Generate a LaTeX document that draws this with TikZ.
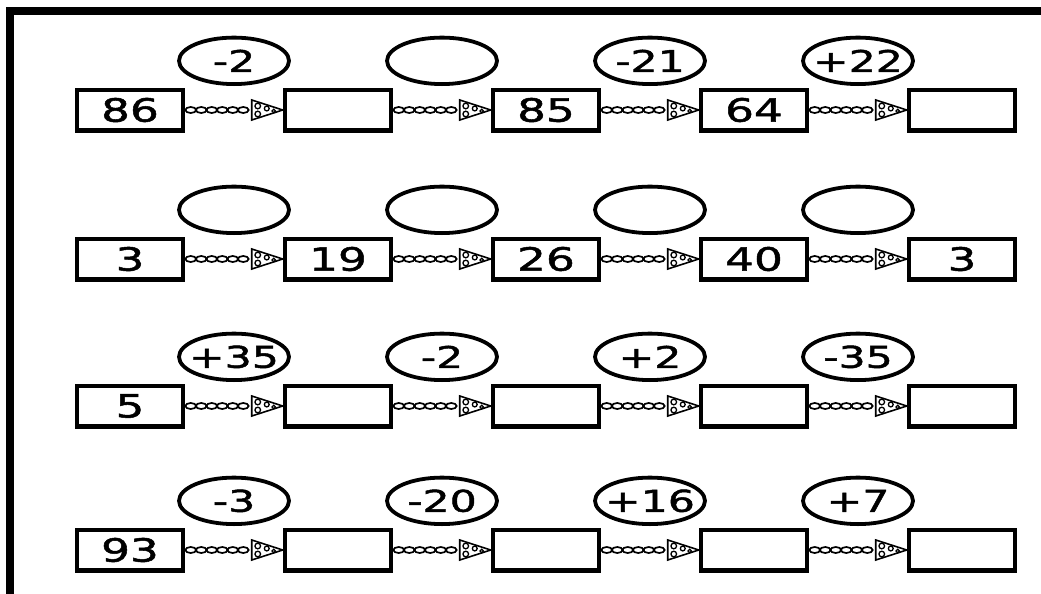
\documentclass[tikz,border=0pt]{standalone}
\usepackage{fontspec}
\setmainfont{DejaVu Sans}[FakeStretch=1.42, FakeBold=1.6]
\usepackage{tikz}
\usetikzlibrary{positioning, shapes.geometric, calc, decorations.markings}

\newcommand{\opval}[1]{\makebox[0pt]{#1}}

\begin{document}
\begin{tikzpicture}[
    x=1pt, y=1pt, node distance=97.5pt,
    numbox/.style={rectangle, draw, line width=4.5pt, minimum width=106pt,
                   minimum height=40.5pt, inner sep=0pt,
                   font=\fontsize{32}{38}\selectfont},
    opbubble/.style={ellipse, draw, line width=3.8pt, minimum width=110pt,
                     minimum height=46.5pt, inner sep=0pt,
                     font=\fontsize{30}{36}\selectfont},
    chainlink/.style={decoration={markings,
        mark=between positions 5.5pt and -36pt step 10.5pt with
            {\draw[line width=1.7pt] (0,0) ellipse (5.4pt and 3pt);},
        mark=at position 1 with
            {\draw[line width=1.6pt, fill=white]
                 (0,0) -- (-31pt,10pt) -- (-31pt,-10pt) -- cycle;
             \draw[line width=1.3pt] (-25pt,4pt) circle (2.8pt)
                 (-25pt,-4pt) circle (2.8pt) (-16pt,1.5pt) circle (2.4pt)
                 (-9pt,-1pt) circle (1.8pt);}},
        postaction={decorate}}
]
    \useasboundingbox (0,0) rectangle (1041,-594);
    \draw[line width=8pt] (10,-594) -- (10,-11) -- (1041,-11);

    % row 1
    \node[numbox] (b11) at (130,-110) {86};
    \node[numbox, right=of b11] (b12) {};
    \node[numbox, right=of b12] (b13) {85};
    \node[numbox, right=of b13] (b14) {64};
    \node[numbox, right=of b14] (b15) {};
    \node[opbubble, above=24pt of $(b11)!0.5!(b12)$] (d11) {\opval{-2}};
    \node[opbubble, above=24pt of $(b12)!0.5!(b13)$] (d12) {};
    \node[opbubble, above=24pt of $(b13)!0.5!(b14)$] (d13) {\opval{-21}};
    \node[opbubble, above=24pt of $(b14)!0.5!(b15)$] (d14) {\opval{+22}};
    \path[chainlink] (b11) -- (b12);
    \path[chainlink] (b12) -- (b13);
    \path[chainlink] (b13) -- (b14);
    \path[chainlink] (b14) -- (b15);

    % row 2
    \node[numbox] (b21) at (130,-259) {3};
    \node[numbox, right=of b21] (b22) {19};
    \node[numbox, right=of b22] (b23) {26};
    \node[numbox, right=of b23] (b24) {40};
    \node[numbox, right=of b24] (b25) {3};
    \node[opbubble, above=24pt of $(b21)!0.5!(b22)$] (d21) {};
    \node[opbubble, above=24pt of $(b22)!0.5!(b23)$] (d22) {};
    \node[opbubble, above=24pt of $(b23)!0.5!(b24)$] (d23) {};
    \node[opbubble, above=24pt of $(b24)!0.5!(b25)$] (d24) {};
    \path[chainlink] (b21) -- (b22);
    \path[chainlink] (b22) -- (b23);
    \path[chainlink] (b23) -- (b24);
    \path[chainlink] (b24) -- (b25);

    % row 3
    \node[numbox] (b31) at (130,-406) {5};
    \node[numbox, right=of b31] (b32) {};
    \node[numbox, right=of b32] (b33) {};
    \node[numbox, right=of b33] (b34) {};
    \node[numbox, right=of b34] (b35) {};
    \node[opbubble, above=24pt of $(b31)!0.5!(b32)$] (d31) {\opval{+35}};
    \node[opbubble, above=24pt of $(b32)!0.5!(b33)$] (d32) {\opval{-2}};
    \node[opbubble, above=24pt of $(b33)!0.5!(b34)$] (d33) {\opval{+2}};
    \node[opbubble, above=24pt of $(b34)!0.5!(b35)$] (d34) {\opval{-35}};
    \path[chainlink] (b31) -- (b32);
    \path[chainlink] (b32) -- (b33);
    \path[chainlink] (b33) -- (b34);
    \path[chainlink] (b34) -- (b35);

    % row 4
    \node[numbox] (b41) at (130,-550) {93};
    \node[numbox, right=of b41] (b42) {};
    \node[numbox, right=of b42] (b43) {};
    \node[numbox, right=of b43] (b44) {};
    \node[numbox, right=of b44] (b45) {};
    \node[opbubble, above=24pt of $(b41)!0.5!(b42)$] (d41) {\opval{-3}};
    \node[opbubble, above=24pt of $(b42)!0.5!(b43)$] (d42) {\opval{-20}};
    \node[opbubble, above=24pt of $(b43)!0.5!(b44)$] (d43) {\opval{+16}};
    \node[opbubble, above=24pt of $(b44)!0.5!(b45)$] (d44) {\opval{+7}};
    \path[chainlink] (b41) -- (b42);
    \path[chainlink] (b42) -- (b43);
    \path[chainlink] (b43) -- (b44);
    \path[chainlink] (b44) -- (b45);
\end{tikzpicture}
\end{document}
